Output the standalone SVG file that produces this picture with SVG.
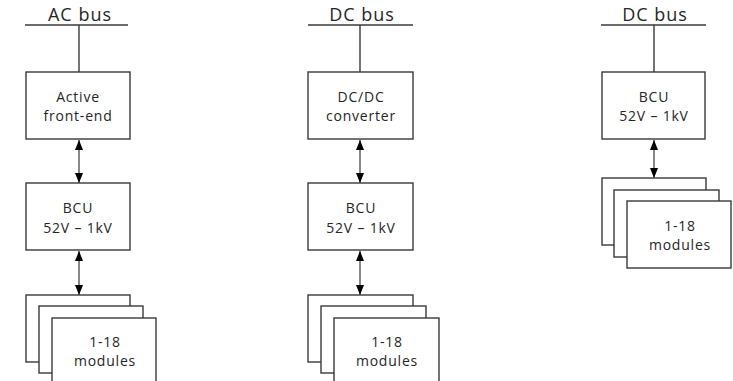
<svg xmlns="http://www.w3.org/2000/svg" width="733" height="381" viewBox="0 0 733 381">
<style>
.bg{fill:#ffffff}
.box{fill:#ffffff;stroke:#3a3a3a;stroke-width:1.4}
.bus{stroke:#3a3a3a;stroke-width:1.4;fill:none}
.arr{stroke:#555555;stroke-width:1.4;fill:none;marker-start:url(#ah);marker-end:url(#ah)}
.t{font-family:"Open Sans","Liberation Sans",sans-serif;font-size:14px;fill:#262626;text-anchor:middle;letter-spacing:0.8px}
.bt{font-family:"Open Sans","Liberation Sans",sans-serif;font-size:18px;fill:#262626;text-anchor:middle;letter-spacing:1px}
</style>
<defs>
<marker id="ah" viewBox="0 0 10 8" markerUnits="userSpaceOnUse" markerWidth="10" markerHeight="8" refX="10" refY="4" orient="auto-start-reverse">
<path d="M0,0 L10,4 L0,8 z" fill="#000000"/>
</marker>
</defs>
<rect class="bg" x="0" y="0" width="733" height="381"/>

<g id="connectors">
<line class="bus" x1="25" y1="25" x2="128" y2="25"/>
<line class="bus" x1="79" y1="25" x2="79" y2="72"/>
<line class="arr" x1="79" y1="140" x2="79" y2="183"/>
<line class="arr" x1="79" y1="251" x2="79" y2="295"/>

<line class="bus" x1="308" y1="25" x2="413" y2="25"/>
<line class="bus" x1="360" y1="25" x2="360" y2="72"/>
<line class="arr" x1="360" y1="140" x2="360" y2="183"/>
<line class="arr" x1="360" y1="251" x2="360" y2="295"/>

<line class="bus" x1="601" y1="25" x2="706" y2="25"/>
<line class="bus" x1="654" y1="25" x2="654" y2="72"/>
<line class="arr" x1="654" y1="140" x2="654" y2="178"/>
</g>

<g id="label-ac-bus"><text class="bt" x="80" y="21">AC bus</text></g>
<g id="label-dc-bus-1"><text class="bt" x="362" y="21">DC bus</text></g>
<g id="label-dc-bus-2"><text class="bt" x="655" y="21">DC bus</text></g>

<g id="afe">
<rect class="box" x="26" y="72" width="104" height="67"/>
<text class="t" x="78" y="102">Active</text>
<text class="t" x="78" y="121">front-end</text>
</g>
<g id="bcu-1">
<rect class="box" x="26" y="183" width="104" height="67"/>
<text class="t" x="78" y="213">BCU</text>
<text class="t" x="78" y="233">52V – 1kV</text>
</g>
<g id="modules-1">
<rect class="box" x="26" y="295" width="104" height="67"/>
<rect class="box" x="39" y="306" width="104" height="67"/>
<rect class="box" x="52" y="318" width="104" height="67"/>
<text class="t" x="105" y="347">1-18</text>
<text class="t" x="105" y="366">modules</text>
</g>

<g id="dcdc">
<rect class="box" x="308" y="72" width="105" height="67"/>
<text class="t" x="361" y="102">DC/DC</text>
<text class="t" x="361" y="121">converter</text>
</g>
<g id="bcu-2">
<rect class="box" x="308" y="183" width="105" height="67"/>
<text class="t" x="361" y="213">BCU</text>
<text class="t" x="361" y="233">52V – 1kV</text>
</g>
<g id="modules-2">
<rect class="box" x="308" y="295" width="105" height="67"/>
<rect class="box" x="321" y="306" width="105" height="67"/>
<rect class="box" x="334" y="318" width="105" height="67"/>
<text class="t" x="387" y="347">1-18</text>
<text class="t" x="387" y="366">modules</text>
</g>

<g id="bcu-3">
<rect class="box" x="602" y="72" width="103" height="67"/>
<text class="t" x="654" y="102">BCU</text>
<text class="t" x="654" y="121">52V – 1kV</text>
</g>
<g id="modules-3">
<rect class="box" x="602" y="178" width="104" height="67"/>
<rect class="box" x="614" y="190" width="105" height="67"/>
<rect class="box" x="627" y="201" width="104" height="67"/>
<text class="t" x="680" y="231">1-18</text>
<text class="t" x="680" y="250">modules</text>
</g>
</svg>
